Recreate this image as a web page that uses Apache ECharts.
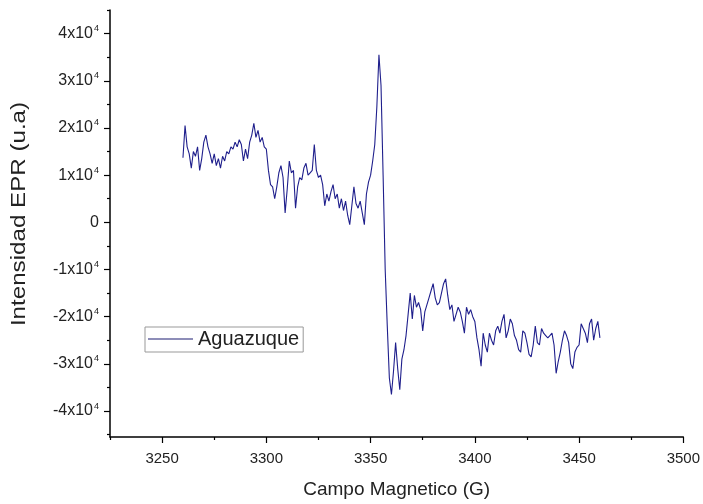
<!DOCTYPE html>
<html>
<head>
<meta charset="utf-8">
<script src="https://cdn.jsdelivr.net/npm/echarts@6/dist/echarts.min.js"></script>
<style>
html,body{margin:0;padding:0;background:#fff;}
#chart{width:703px;height:504px;}
</style>
</head>
<body>
<div id="chart"></div>
<script>
// Magnetic field (G), 1 G steps from 3260 to 3460
const fieldStart = 3260;
const fieldStep = 1;
// EPR intensity in units of 1e4 (u.a)
const intensity = [
  1.37, 2.05, 1.6, 1.45, 1.15, 1.5, 1.4, 1.6, 1.1, 1.35,
  1.7, 1.85, 1.6, 1.45, 1.25, 1.45, 1.2, 1.35, 1.15, 1.4,
  1.3, 1.5, 1.45, 1.6, 1.55, 1.7, 1.6, 1.75, 1.65, 1.3,
  1.55, 1.35, 1.7, 1.85, 2.1, 1.8, 1.95, 1.7, 1.8, 1.6,
  1.55, 1.1, 0.8, 0.75, 0.5, 0.75, 1.05, 1.2, 0.95, 0.2,
  0.7, 1.3, 1.05, 1.1, 0.3, 0.75, 0.95, 0.9, 1.15, 1.25,
  1.0, 1.05, 1.1, 1.65, 1.1, 0.95, 1.0, 0.8, 0.35, 0.6,
  0.45, 0.65, 0.8, 0.5, 0.6, 0.3, 0.5, 0.25, 0.45, 0.15,
  -0.05, 0.35, 0.75, 0.4, 0.3, 0.45, 0.2, -0.05, 0.6, 0.85,
  1.0, 1.3, 1.65, 2.45, 3.55, 2.9, 1.0, -1.0, -2.2, -3.3,
  -3.65, -3.15, -2.55, -3.1, -3.55, -2.9, -2.7, -2.4, -1.95, -1.5,
  -2.05, -1.55, -1.8, -1.7, -1.85, -2.3, -1.9, -1.75, -1.6, -1.45,
  -1.3, -1.6, -1.75, -1.7, -1.5, -1.3, -1.2, -1.55, -1.85, -1.75,
  -2.1, -1.95, -1.8, -1.9, -2.1, -2.35, -1.8, -1.95, -1.85, -2.0,
  -2.1, -2.45, -2.7, -3.05, -2.35, -2.6, -2.75, -2.35, -2.5, -2.6,
  -2.3, -2.2, -2.35, -2.1, -1.95, -2.45, -2.3, -2.05, -2.15, -2.4,
  -2.5, -2.7, -2.75, -2.3, -2.35, -2.55, -2.8, -2.85, -2.6, -2.2,
  -2.55, -2.6, -2.25, -2.35, -2.4, -2.45, -2.4, -2.35, -2.6, -3.2,
  -2.95, -2.75, -2.5, -2.3, -2.4, -2.55, -3.0, -3.1, -2.75, -2.65,
  -2.6, -2.15, -2.25, -2.35, -2.55, -2.15, -2.05, -2.5, -2.25, -2.1,
  -2.45
];
const xMajorTicks = [3250, 3300, 3350, 3400, 3450, 3500];
const xMinorTicks = [3225, 3275, 3325, 3375, 3425, 3475];
const yMajorTicks = [-40000, -30000, -20000, -10000, 0, 10000, 20000, 30000, 40000];
const yMinorTicks = [-45000, -35000, -25000, -15000, -5000, 5000, 15000, 25000, 35000, 45000];
const seriesName = 'Aguazuque';
const xTitle = 'Campo Magnetico (G)';
const yTitle = 'Intensidad EPR (u.a)';

const data = intensity.map((v, i) => [fieldStart + i * fieldStep, v * 1e4]);

const FONT = "'Liberation Sans', Arial, sans-serif";
const TXT = '#222';
const LINE = '#1f1f8c';
const X_MIN = 3225, X_MAX = 3500, Y_MIN = -45500, Y_MAX = 45000;

const chart = echarts.init(document.getElementById('chart'), null, {renderer: 'canvas'});
chart.setOption({
  animation: false,
  backgroundColor: '#fff',
  grid: {left: 110, right: 19, top: 10, bottom: 66, containLabel: false},
  graphic: [{
    type: 'text',
    x: 19, y: 214,
    rotation: Math.PI / 2,
    scaleX: 1.15,
    style: {
      text: yTitle,
      font: "21px 'Liberation Sans', Arial, sans-serif",
      fill: TXT,
      textAlign: 'center',
      textVerticalAlign: 'middle'
    }
  }],
  legend: {
    show: true,
    left: 145, top: 327,
    orient: 'horizontal',
    padding: [2, 4, 3, 3],
    borderColor: '#999', borderWidth: 1, borderRadius: 0,
    itemWidth: 45, itemHeight: 2, itemGap: 5,
    textStyle: {fontFamily: FONT, fontSize: 20, color: TXT},
    data: [{name: seriesName, icon: 'rect', itemStyle: {color: '#8d8db8'}}]
  },
  xAxis: [{
    type: 'value', min: X_MIN, max: X_MAX,
    name: xTitle, nameLocation: 'middle', nameGap: 43,
    nameTextStyle: {fontFamily: FONT, fontSize: 19, color: TXT},
    axisLine: {show: true, onZero: false, lineStyle: {color: '#000', width: 1.5}},
    axisTick: {show: true, inside: false, length: 6, customValues: xMajorTicks, lineStyle: {color: '#000', width: 1.2}},
    axisLabel: {show: true, customValues: xMajorTicks, margin: 14, fontFamily: FONT, fontSize: 15, color: TXT,
      formatter: function (v) { return String(v); }},
    splitLine: {show: false}
  }, {
    type: 'value', min: X_MIN, max: X_MAX, position: 'bottom',
    axisLine: {show: false, onZero: false},
    axisTick: {show: true, length: 3, customValues: xMinorTicks, lineStyle: {color: '#000', width: 1.2}},
    axisLabel: {show: false},
    splitLine: {show: false}
  }],
  yAxis: [{
    type: 'value', min: Y_MIN, max: Y_MAX,
    axisLine: {show: true, onZero: false, lineStyle: {color: '#000', width: 1.5}},
    axisTick: {show: true, length: 6, customValues: yMajorTicks, lineStyle: {color: '#000', width: 1.2}},
    axisLabel: {
      show: true, customValues: yMajorTicks, margin: 11,
      fontFamily: FONT, fontSize: 16, color: TXT,
      formatter: function (v) {
        if (v === 0) return '{n|0}';
        return '{n|' + (v / 1e4) + 'x10}{s|4}';
      },
      rich: {
        n: {fontFamily: FONT, fontSize: 16, color: TXT},
        s: {fontFamily: FONT, fontSize: 9, color: TXT, verticalAlign: 'bottom', padding: [0, 0, 10, 1]}
      }
    },
    splitLine: {show: false}
  }, {
    type: 'value', min: Y_MIN, max: Y_MAX, position: 'left',
    axisLine: {show: false, onZero: false},
    axisTick: {show: true, length: 3, customValues: yMinorTicks, lineStyle: {color: '#000', width: 1.2}},
    axisLabel: {show: false},
    splitLine: {show: false}
  }],
  series: [{
    name: seriesName, type: 'line', xAxisIndex: 0, yAxisIndex: 0,
    data: data, symbol: 'none', smooth: false,
    lineStyle: {color: LINE, width: 1.1},
    itemStyle: {color: LINE}
  }]
});
</script>
</body>
</html>
